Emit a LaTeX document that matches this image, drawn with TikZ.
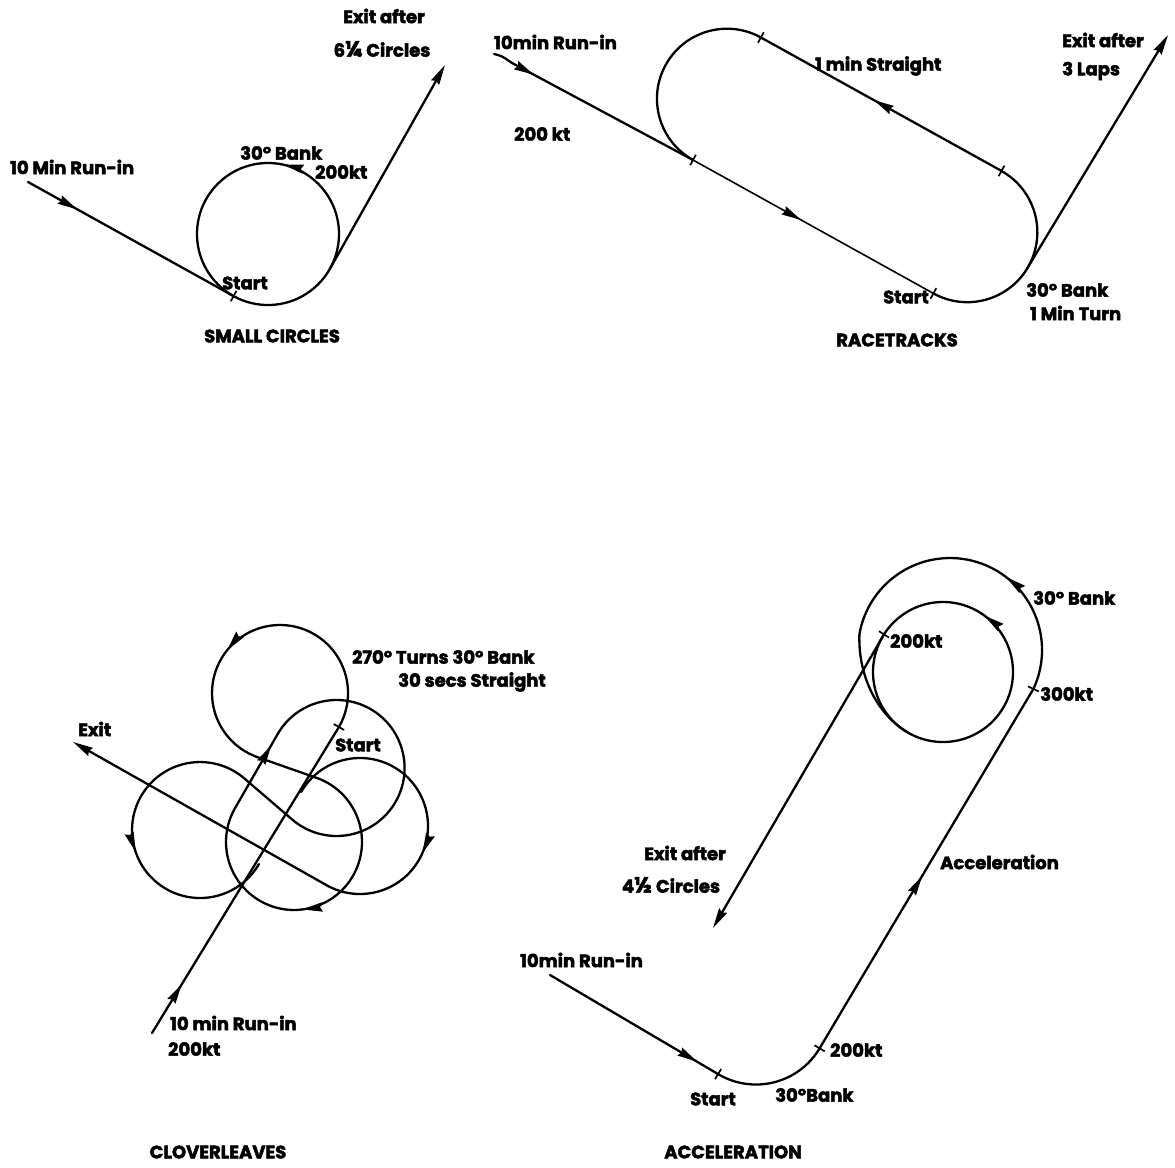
\documentclass[tikz,border=0pt]{standalone}
\usepackage{fontspec}
\setmainfont{Poppins}[BoldFeatures={FakeBold=2.6}]
\usetikzlibrary{arrows.meta,decorations.markings}
\newcommand\myfr[1]{{\fontsize{22}{22}\selectfont #1}}
\tikzset{
  ln/.style={line width=2.3pt, line cap=round, line join=round},
  tk/.style={line width=1.7pt},
  lbl/.style={font=\bfseries\fontsize{18}{20}\selectfont, inner sep=0pt},
  ttl/.style={font=\bfseries\fontsize{18}{20}\selectfont, inner sep=0pt},
  tipend/.style={-{Stealth[length=20pt,width=9pt,inset=2pt]}},
  arrowmid/.style={postaction={decorate},
    decoration={markings, mark=at position #1 with {\arrow{Stealth[length=20pt,width=9pt,inset=2pt]}}}}
}
\begin{document}
\begin{tikzpicture}[x=1pt,y=-1pt]
\useasboundingbox (0,0) rectangle (1175,1167);
% ================= SMALL CIRCLES =================
\coordinate (sc) at (268,234);
\coordinate (scstart) at (233.6,296.1);
\coordinate (scexit) at (329.9,268.9);
\coordinate (scin) at (28,182);
\coordinate (scout) at (445,65);
\draw[ln, arrowmid=0.215] (sc) ++(0:71) arc[start angle=0, end angle=-360, radius=71];
\draw[ln, arrowmid=0.24] (scin) -- (scstart);
\draw[ln, tipend] (scexit) -- (scout);
\draw[tk] (scstart) ++(118.8:6) -- ++(-61.2:12);
\node[lbl, anchor=west] (sc1) at (10,167) {10 Min Run-in};
\node[lbl, anchor=west] (sc2) at (240,153) {30° Bank};
\node[lbl, anchor=west] (sc3) at (315,172) {200kt};
\node[lbl] (sc4) at (384,16) {Exit after};
\node[lbl] (sc5) at (382,49) {6\myfr{¼} Circles};
\node[lbl, anchor=west] (sc6) at (222,283) {Start};
\node[ttl] (sc7) at (272,336) {SMALL CIRCLES};
% ================= RACETRACKS =================
\coordinate (rA) at (693,160);
\coordinate (rB) at (933.4,293.4);
\coordinate (rAp) at (760.9,37.5);
\coordinate (rBp) at (1001.5,170.9);
\coordinate (rin) at (494,54);
\coordinate (rexit) at (1027.2,268.4);
\coordinate (rout) at (1168,35);
\draw[ln] (rAp) arc[start angle=-61, end angle=-241, radius=70];
\draw[ln] (rB) arc[start angle=119, end angle=-61, radius=70];
\draw[ln, line width=1.6pt, arrowmid=0.45] (rA) -- (rB);
\draw[ln, arrowmid=0.53] (rBp) -- (rAp);
\draw[ln, arrowmid=0.2] (rin) .. controls (502,56) .. (512,63) -- (rA);
\draw[ln, tipend] (rexit) -- (rout);
\foreach \p in {rA,rB,rAp,rBp} \draw[tk] (\p) ++(-61:6) -- ++(119:12);
\node[lbl, anchor=west] (r1) at (494,42) {10min Run-in};
\node[lbl, anchor=west] (r2) at (514,134) {200 kt};
\node[lbl, anchor=west] (r3) at (815,66) {1 min Straight};
\node[lbl, anchor=west] (r4) at (1062,40) {Exit after};
\node[lbl, anchor=west] (r5) at (1062,71) {3 Laps};
\node[lbl, anchor=east] (r6) at (929,297) {Start};
\node[lbl, anchor=west] (r7) at (1026,290) {30° Bank};
\node[lbl, anchor=west] (r8) at (1030,313) {1 Min Turn};
\node[ttl] (r9) at (897,340) {RACETRACKS};
% ================= CLOVERLEAVES =================
\coordinate (cT) at (280,693);
\coordinate (c3) at (360,826);
\coordinate (c4) at (294,842);
\coordinate (c2) at (336.6,768);
\coordinate (c5) at (200,830);
\coordinate (cin) at (152,1033);
\coordinate (cstart) at (338.9,727);
\coordinate (cexitp) at (326.6,885.2);
\coordinate (cexit) at (73,742);
\coordinate (cTout) at (255.1,756.3);
\coordinate (c4in) at (318.9,778.7);
\coordinate (c4out) at (235.1,808);
\coordinate (c2in) at (277.7,734);
\coordinate (c2out) at (292.3,819.6);
\coordinate (c5in) at (244.3,778.4);
\draw[ln, arrowmid=0.16] (cin) -- (cstart);
\draw[ln, arrowmid=0.614] (cstart) arc[start angle=30, end angle=-248.5, radius=68];
\draw[ln] (cTout) -- (c4in);
\draw[ln, arrowmid=0.544] (c4in) arc[start angle=-68.5, end angle=210, radius=68];
\draw[ln, arrowmid=0.85] (c4out) -- (c2in);
\draw[ln] (c2in) arc[start angle=210, end angle=490.6, radius=68];
\draw[ln] (c2out) -- (c5in);
\draw[ln, arrowmid=0.533] (c5in) arc[start angle=-49.4, end angle=-330, radius=68];
\draw[ln, arrowmid=0.644] (c3) ++(210:68) arc[start angle=210, end angle=479.4, radius=68];
\draw[ln, tipend] (cexitp) -- (cexit);
\draw[tk] (cstart) ++(30:6) -- ++(210:12);
\node[lbl, anchor=west] (c1) at (352,657) {270° Turns 30° Bank};
\node[lbl, anchor=west] (c6) at (398,682) {30 secs Straight};
\node[lbl, anchor=west] (c7) at (78,729) {Exit};
\node[lbl, anchor=west] (c8) at (335,745) {Start};
\node[lbl, anchor=west] (c9) at (170,1023) {10 min Run-in};
\node[lbl, anchor=west] (c10) at (168,1049) {200kt};
\node[ttl] (c11) at (218,1152) {CLOVERLEAVES};
% ================= ACCELERATION =================
\coordinate (ai) at (943,672);
\coordinate (ao) at (950,650);
\coordinate (ab) at (756,1010.5);
\coordinate (ain) at (550,975);
\coordinate (astart) at (718.1,1074.1);
\coordinate (a200) at (819.6,1048.3);
\coordinate (a300) at (1033.4,688.9);
\coordinate (ai200) at (884,634.4);
\coordinate (aexit) at (713,928);
\draw[ln, arrowmid=0.875] (ain) -- (astart);
\draw[ln] (astart) arc[start angle=120.8, end angle=30.7, radius=74];
\draw[ln, arrowmid=0.48] (a200) -- (a300);
\draw[ln, arrowmid=0.29] (a300) arc[start angle=25, end angle=-170, radius=92]
  -- plot[domain=-170:-240, samples=30, variable=\t]
  ({950-7*(-170-\t)/70 + (92-22*(-170-\t)/70)*cos(\t)}, {650+22*(-170-\t)/70 + (92-22*(-170-\t)/70)*sin(\t)});
\draw[ln, arrowmid=0.149] (ai) ++(0:70) arc[start angle=0, end angle=-360, radius=70];
\draw[ln, tipend] (ai200) -- (aexit);
\draw[tk] (astart) ++(120.8:6) -- ++(-59.2:12);
\draw[tk] (a200) ++(30.7:6) -- ++(210.7:12);
\draw[tk] (a300) ++(25:6) -- ++(205:12);
\draw[tk] (ai200) ++(-147.5:6) -- ++(32.5:12);
\node[lbl, anchor=west] (a1) at (1033,598) {30° Bank};
\node[lbl, anchor=west] (a2) at (890,641) {200kt};
\node[lbl, anchor=west] (a3) at (1040,694) {300kt};
\node[lbl] (a4) at (685,853) {Exit after};
\node[lbl] (a5) at (671,885) {4\myfr{½} Circles};
\node[lbl, anchor=west] (a6) at (940,862) {Acceleration};
\node[lbl, anchor=west] (a7) at (520,960) {10min Run-in};
\node[lbl] (a8) at (713,1099) {Start};
\node[lbl, anchor=west] (a9) at (775,1095) {30°Bank};
\node[lbl, anchor=west] (a10) at (830,1050) {200kt};
\node[ttl] (a11) at (733,1152) {ACCELERATION};
\end{tikzpicture}
\end{document}
